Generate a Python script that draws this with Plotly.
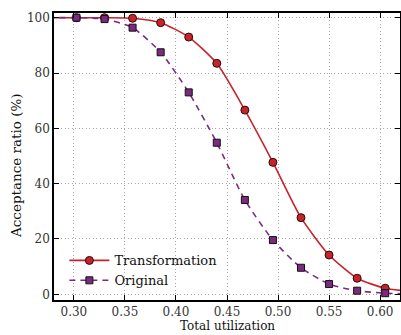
import plotly.graph_objects as go

utilization = [0.275, 0.3025, 0.33, 0.3575, 0.385, 0.4125, 0.44, 0.4675, 0.495, 0.5225, 0.55, 0.5775, 0.605, 0.6325]
transformation = [100, 100, 100, 99.8, 98.2, 93.0, 83.5, 66.6, 47.7, 27.7, 14.2, 5.8, 2.2, 0.9]
original = [100, 100, 99.5, 96.4, 87.5, 73.0, 54.8, 34.1, 19.6, 9.6, 3.7, 1.3, 0.4, 0.1]
x_ticks = [0.30, 0.35, 0.40, 0.45, 0.50, 0.55, 0.60]
y_ticks = [0, 20, 40, 60, 80, 100]

red = "#c8232b"
purple = "#7b2a80"
font = "DejaVu Serif"

fig = go.Figure()
fig.add_trace(go.Scatter(
    x=utilization, y=transformation, name="Transformation", mode="lines+markers",
    line=dict(color=red, width=1.6, shape="spline", smoothing=0.6),
    marker=dict(symbol="circle", size=8, color=red, line=dict(color="#2a0a0a", width=1)),
))
fig.add_trace(go.Scatter(
    x=utilization, y=original, name="Original", mode="lines+markers",
    line=dict(color=purple, width=1.6, dash="6px,5px", shape="spline", smoothing=0.6),
    marker=dict(symbol="square", size=7, color=purple, line=dict(color="#111111", width=1)),
))

axis_common = dict(
    showline=True, linecolor="black", linewidth=1.5, mirror="ticks",
    ticks="inside", ticklen=5, tickwidth=1.3, tickcolor="black",
    showgrid=True, gridcolor="#a8a8a8", gridwidth=1, griddash="1px,2.5px",
    zeroline=False, tickfont=dict(family=font, size=12, color="#333"),
    automargin=False,
)
fig.update_xaxes(range=[0.2805, 0.6195], tickvals=x_ticks,
                 ticktext=[f"{v:.2f}" for v in x_ticks], **axis_common)
fig.update_yaxes(range=[-2.06, 101.7], tickvals=y_ticks, **axis_common)
fig.update_layout(
    width=401, height=335,
    margin=dict(l=54, r=1, t=13, b=35),
    paper_bgcolor="white", plot_bgcolor="white",
    font=dict(family=font, size=12, color="#111"),
    legend=dict(x=0.03, y=0.19, xanchor="left", yanchor="top", bgcolor="rgba(0,0,0,0)",
                font=dict(family=font, size=13, color="#111"), tracegroupgap=0, itemwidth=40),
    showlegend=True,
    annotations=[
        dict(text="Total utilization", xref="paper", yref="paper", x=0.5, y=0,
             yshift=-35, xanchor="center", yanchor="bottom", showarrow=False,
             font=dict(family=font, size=12, color="#111")),
        dict(text="Acceptance ratio (%)", xref="paper", yref="paper", x=0, y=0.467,
             xshift=-48, xanchor="left", yanchor="middle", textangle=-90, showarrow=False,
             font=dict(family=font, size=13.5, color="#111")),
    ],
)
fig.write_html("out.html", config={"displayModeBar": False},
               post_script="document.body.style.margin='0';document.body.style.overflow='hidden';")
